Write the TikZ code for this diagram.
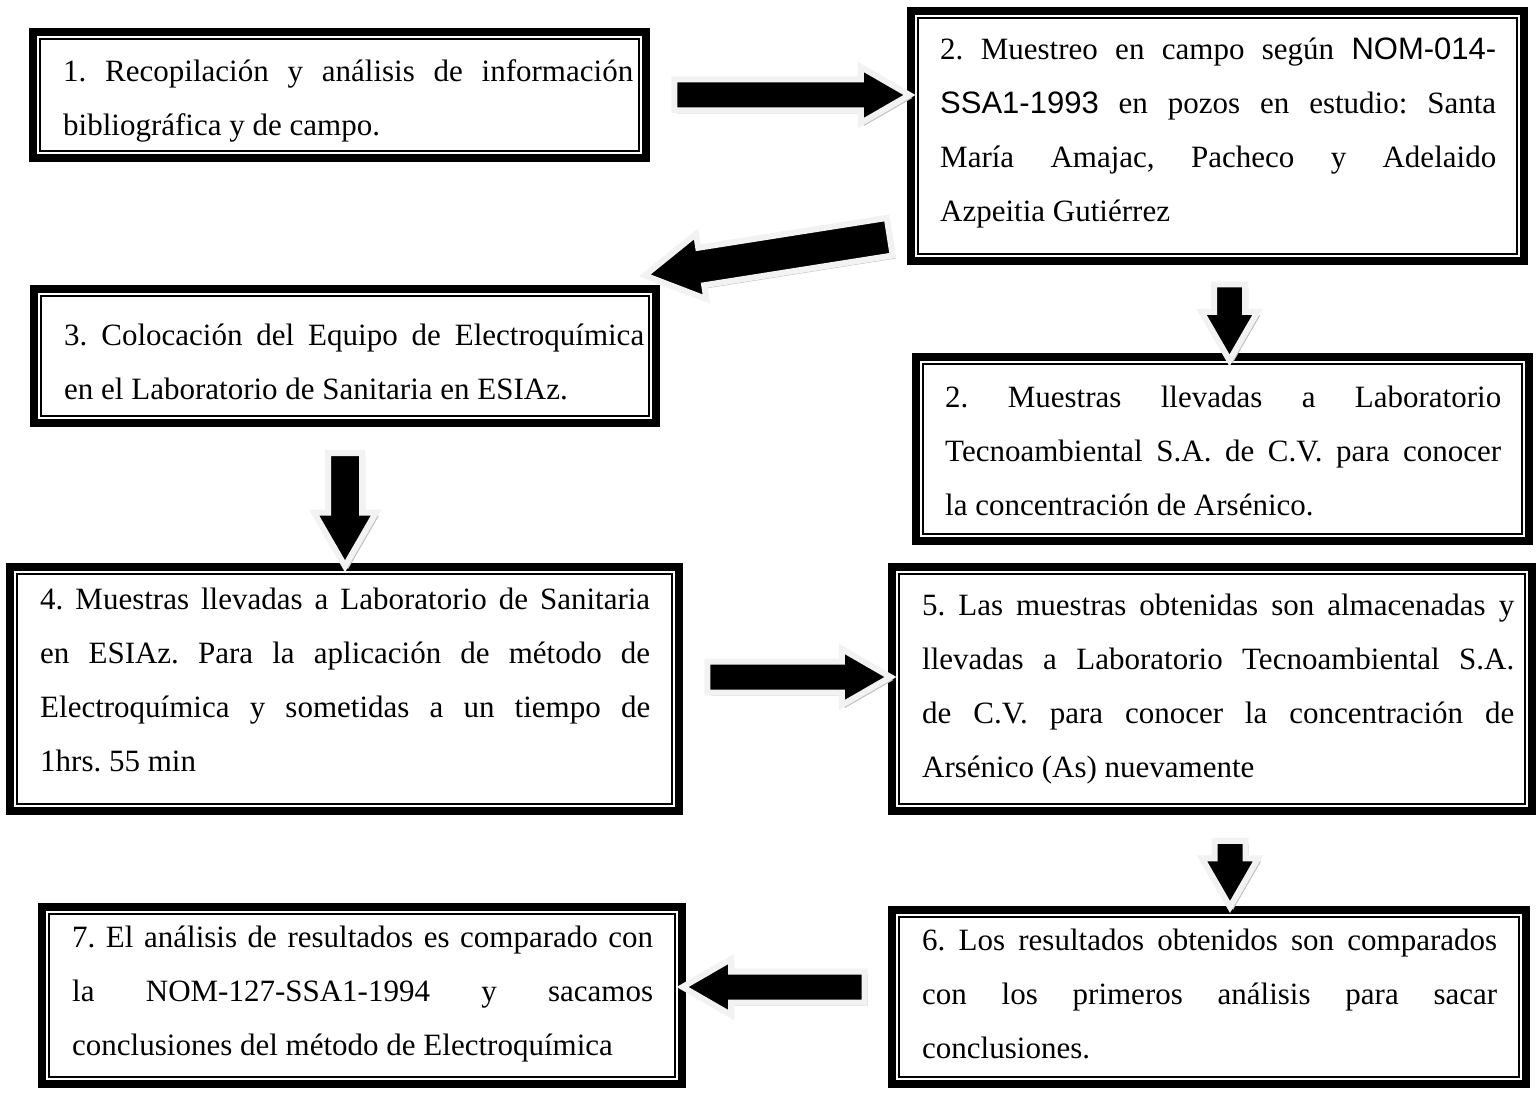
\documentclass[tikz,border=0pt]{standalone}
\usepackage{fontspec}
\setmainfont{Liberation Serif}
\newfontfamily\arialfont{Liberation Sans}
\usetikzlibrary{shapes.arrows, shadows, calc}
\tolerance=10000
\hbadness=10000
\hyphenpenalty=10000
\exhyphenpenalty=10000
\frenchspacing

\begin{document}
\begin{tikzpicture}[x=1pt, y=1pt,
	marco/.style={draw, line width=8pt, inner sep=0pt,
		path picture={\draw[line width=1.5pt] ([shift={(7pt,7pt)}]path picture bounding box.south west) rectangle ([shift={(-7pt,-7pt)}]path picture bounding box.north east);}},
	texto/.style={anchor=base west, inner sep=0pt, align=justify, font=\fontsize{31}{54}\selectfont},
	flecha/.style={single arrow, fill=black, draw=flechagris, line width=6pt, inner xsep=0pt, inner ysep=12.5pt,
		single arrow head extend=12.5pt, single arrow tip angle=60, sloped, allow upside down,
		drop shadow={shadow xshift=3pt, shadow yshift=-3pt, fill=sombra, opacity=1}}]
	\definecolor{flechagris}{RGB}{242,242,242}
	\definecolor{sombra}{RGB}{190,190,190}
	\useasboundingbox (0,0) rectangle (1538,-1094);

	% marcos
	\node[marco, minimum width=613, minimum height=126] (paso1) at (339.5,-95) {};
	\node[marco, minimum width=613, minimum height=250] (paso2) at (1217.5,-136) {};
	\node[marco, minimum width=622, minimum height=134] (paso3) at (345,-356) {};
	\node[marco, minimum width=613, minimum height=184] (paso2b) at (1222.5,-449) {};
	\node[marco, minimum width=669, minimum height=244] (paso4) at (344.5,-689) {};
	\node[marco, minimum width=640, minimum height=244] (paso5) at (1212,-689) {};
	\node[marco, minimum width=634, minimum height=174] (paso6) at (1209,-997) {};
	\node[marco, minimum width=640, minimum height=177] (paso7) at (362,-995.5) {};

	% textos
	\node[texto, text width=570pt] (t1) at (63,-82) {1. Recopilación y análisis de información\linebreak bibliográfica y de campo.};
	\node[texto, text width=556pt] (t2) at (940,-60) {2. Muestreo en campo según {\arialfont NOM-014-}\linebreak {\arialfont SSA1-1993} en pozos en estudio: Santa\linebreak María Amajac, Pacheco y Adelaido\linebreak Azpeitia Gutiérrez};
	\node[texto, text width=580pt] (t3) at (64,-345) {3. Colocación del Equipo de Electroquímica\linebreak en el Laboratorio de Sanitaria en ESIAz.};
	\node[texto, text width=556pt] (t2b) at (945,-407) {2. Muestras llevadas a Laboratorio\linebreak Tecnoambiental S.A. de C.V. para conocer\linebreak la concentración de Arsénico.};
	\node[texto, text width=610pt] (t4) at (40,-609) {4. Muestras llevadas a Laboratorio de Sanitaria\linebreak en ESIAz. Para la aplicación de método de\linebreak Electroquímica y sometidas a un tiempo de\linebreak 1hrs. 55 min};
	\node[texto, text width=592pt] (t5) at (922,-615) {5. Las muestras obtenidas son almacenadas y\linebreak llevadas a Laboratorio Tecnoambiental S.A.\linebreak de C.V. para conocer la concentración de\linebreak Arsénico (As) nuevamente};
	\node[texto, text width=575pt] (t6) at (922,-950) {6. Los resultados obtenidos son comparados\linebreak con los primeros análisis para sacar\linebreak conclusiones.};
	\node[texto, text width=581pt] (t7) at (72,-947) {7. El análisis de resultados es comparado con\linebreak la NOM-127-SSA1-1994 y sacamos\linebreak conclusiones del método de Electroquímica};

	% flechas
	\path (paso1.east) -- node[flecha, minimum height=235pt] {} (paso1.east -| paso2.west);
	\path ([yshift=31pt]paso2.south west) -- node[flecha, minimum height=248pt, inner ysep=16pt, single arrow head extend=14pt] {} ([yshift=12pt]paso3.north east);
	\path ([xshift=12pt]paso2.south) -- node[flecha, minimum height=76pt] {} ([xshift=12pt]paso2.south |- paso2b.north);
	\path (paso3.south) -- node[flecha, minimum height=113pt, inner ysep=14pt, single arrow head extend=14pt] {} (paso3.south |- paso4.north);
	\path ([yshift=12pt]paso4.east) -- node[flecha, minimum height=183pt] {} ([yshift=12pt]paso4.east -| paso5.west);
	\path ([xshift=18pt]paso5.south) -- node[flecha, minimum height=66pt] {} ([xshift=18pt]paso5.south |- paso6.north);
	\path ([yshift=10pt]paso6.west) -- node[flecha, minimum height=182pt] {} ([yshift=10pt]paso6.west -| paso7.east);
\end{tikzpicture}
\end{document}
